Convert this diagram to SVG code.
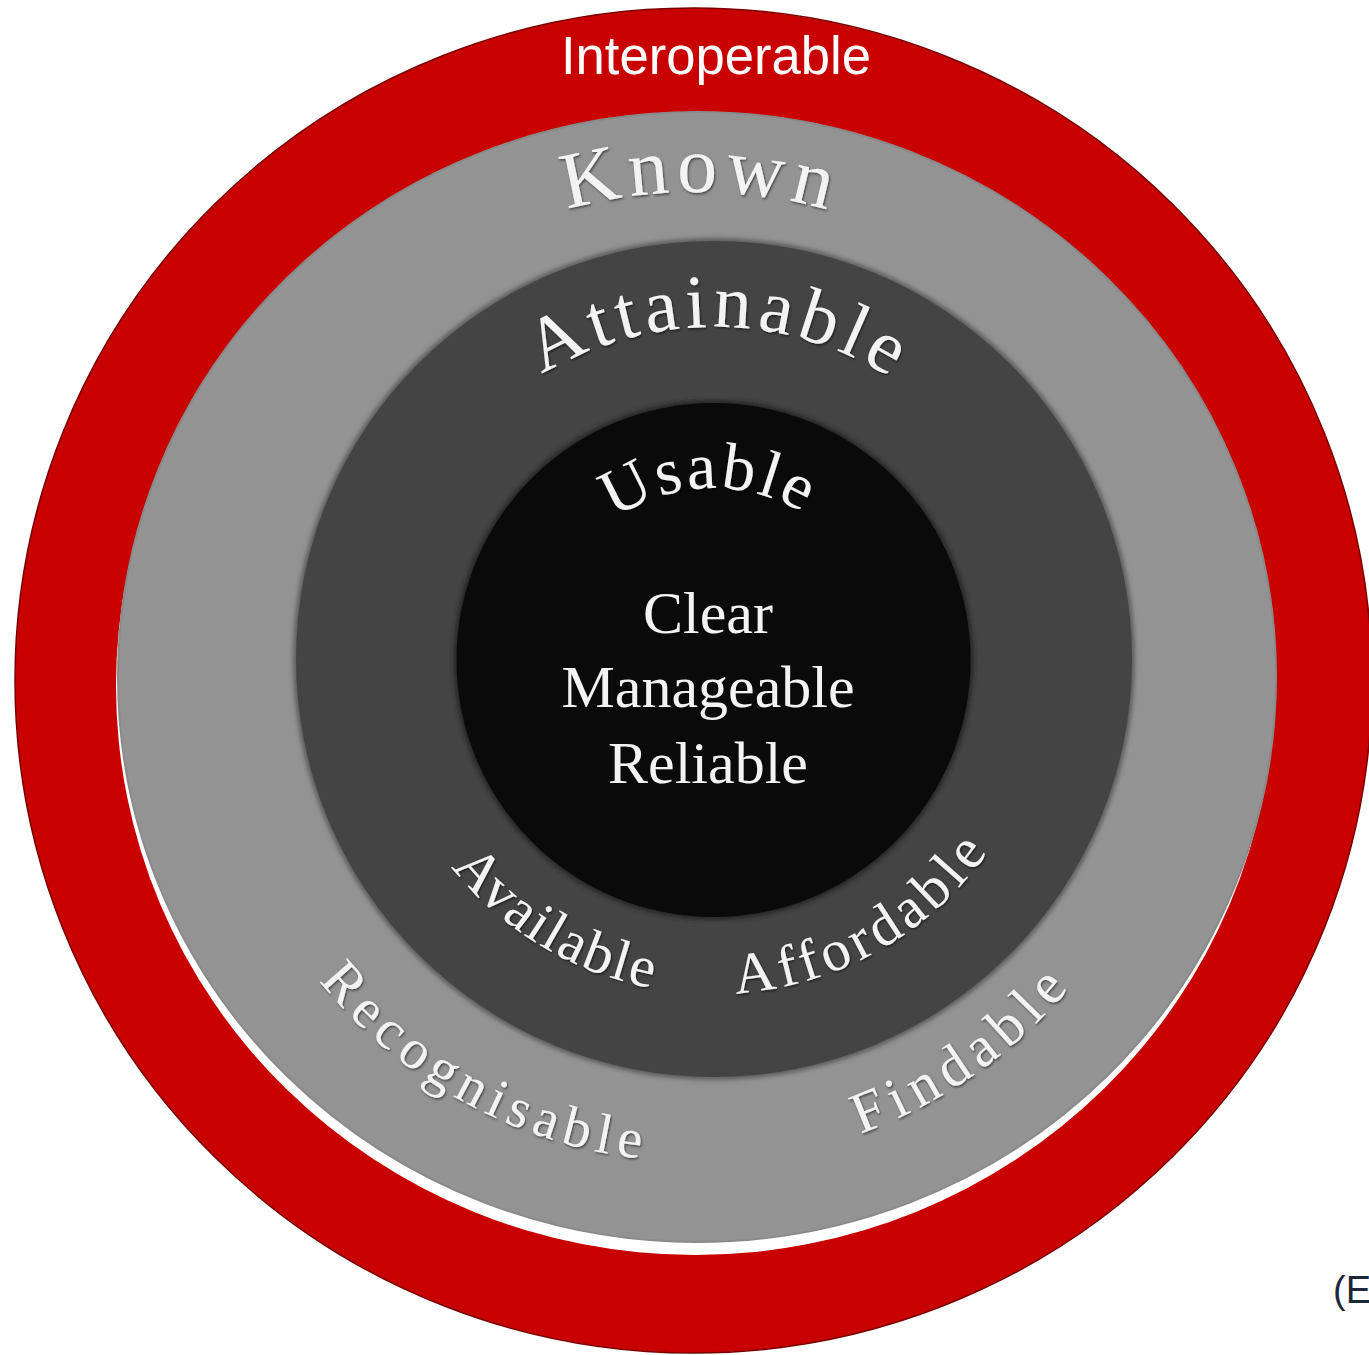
<svg xmlns="http://www.w3.org/2000/svg" xmlns:xlink="http://www.w3.org/1999/xlink" width="1369" height="1355" viewBox="0 0 1369 1355">
  <style>
    .serif { font-family: "Liberation Serif", "Times New Roman", serif; fill: #f3f3f3; }
    .arc { filter: url(#emboss); }
    .sans { font-family: "Liberation Sans", Arial, sans-serif; }
  </style>
  <defs>
    <filter id="emboss" x="-10%" y="-10%" width="120%" height="120%">
      <feDropShadow dx="1" dy="1.5" stdDeviation="1" flood-color="#000" flood-opacity="0.55"/>
    </filter>
    <filter id="soft" x="-5%" y="-5%" width="110%" height="110%">
      <feGaussianBlur stdDeviation="2"/>
    </filter>
    <path id="pKnown" d="M 212 677 A 485 485 0 0 1 1182 677"/>
    <path id="pAttain" d="M 382 659 A 332 332 0 0 1 1046 659"/>
    <path id="pUsable" d="M 541.5 660 A 172 172 0 0 1 885.5 660"/>
    <path id="pDarkBottom" d="M 379 659 A 335 335 0 0 0 1049 659"/>
    <path id="pGrayBottom" d="M 212 677 A 485 485 0 0 0 1182 677"/>
  </defs>

  <rect x="0" y="0" width="1369" height="1355" fill="#ffffff"/>

  <g id="ring-interoperable">
    <ellipse cx="693.5" cy="680.5" rx="678.5" ry="672.5" fill="#c80000" stroke="#7a0000" stroke-width="1.5"/>
    <text class="sans" x="716" y="74" font-size="54" fill="#ffffff" text-anchor="middle" textLength="310" lengthAdjust="spacingAndGlyphs">Interoperable</text>
  </g>

  <g id="ring-known">
    <ellipse cx="695" cy="686" rx="579" ry="569" fill="#ffffff"/>
    <ellipse cx="697" cy="677" rx="579" ry="565" fill="#939393" stroke="#8a8a8a" stroke-width="2"/>
    <text class="serif arc" font-size="80" letter-spacing="7"><textPath xlink:href="#pKnown" startOffset="765.3" text-anchor="middle">Known</textPath></text>
    <text class="serif arc" font-size="56" letter-spacing="6.8"><textPath xlink:href="#pGrayBottom" startOffset="519.8" text-anchor="middle">Recognisable</textPath></text>
    <text class="serif arc" font-size="58" letter-spacing="7.7"><textPath xlink:href="#pGrayBottom" startOffset="1060.7" text-anchor="middle">Findable</textPath></text>
  </g>

  <g id="ring-attainable">
    <circle cx="714" cy="659" r="421" fill="#5e5e5e" filter="url(#soft)"/>
    <circle cx="714" cy="659" r="418" fill="#444444"/>
    <text class="serif arc" font-size="76" letter-spacing="5.5"><textPath xlink:href="#pAttain" startOffset="526.3" text-anchor="middle">Attainable</textPath></text>
    <text class="serif arc" font-size="58" letter-spacing="2.2"><textPath xlink:href="#pDarkBottom" startOffset="344.6" text-anchor="middle">Available</textPath></text>
    <text class="serif arc" font-size="58" letter-spacing="5"><textPath xlink:href="#pDarkBottom" startOffset="699.7" text-anchor="middle">Affordable</textPath></text>
  </g>

  <g id="core-usable">
    <circle cx="713.5" cy="660" r="260" fill="#262626" filter="url(#soft)"/>
    <circle cx="713.5" cy="660" r="257" fill="#0a0a0a"/>
    <text class="serif arc" font-size="66" letter-spacing="3"><textPath xlink:href="#pUsable" startOffset="265.5" text-anchor="middle">Usable</textPath></text>
    <text class="serif" x="708" y="633" font-size="60" text-anchor="middle">Clear</text>
    <text class="serif" x="708" y="707" font-size="60" text-anchor="middle">Manageable</text>
    <text class="serif" x="708" y="783" font-size="60" text-anchor="middle">Reliable</text>
  </g>

  <g id="connectors"/>

  <g id="note">
    <text class="sans" x="1333" y="1303" font-size="38" fill="#1b2838">(E</text>
  </g>
</svg>
